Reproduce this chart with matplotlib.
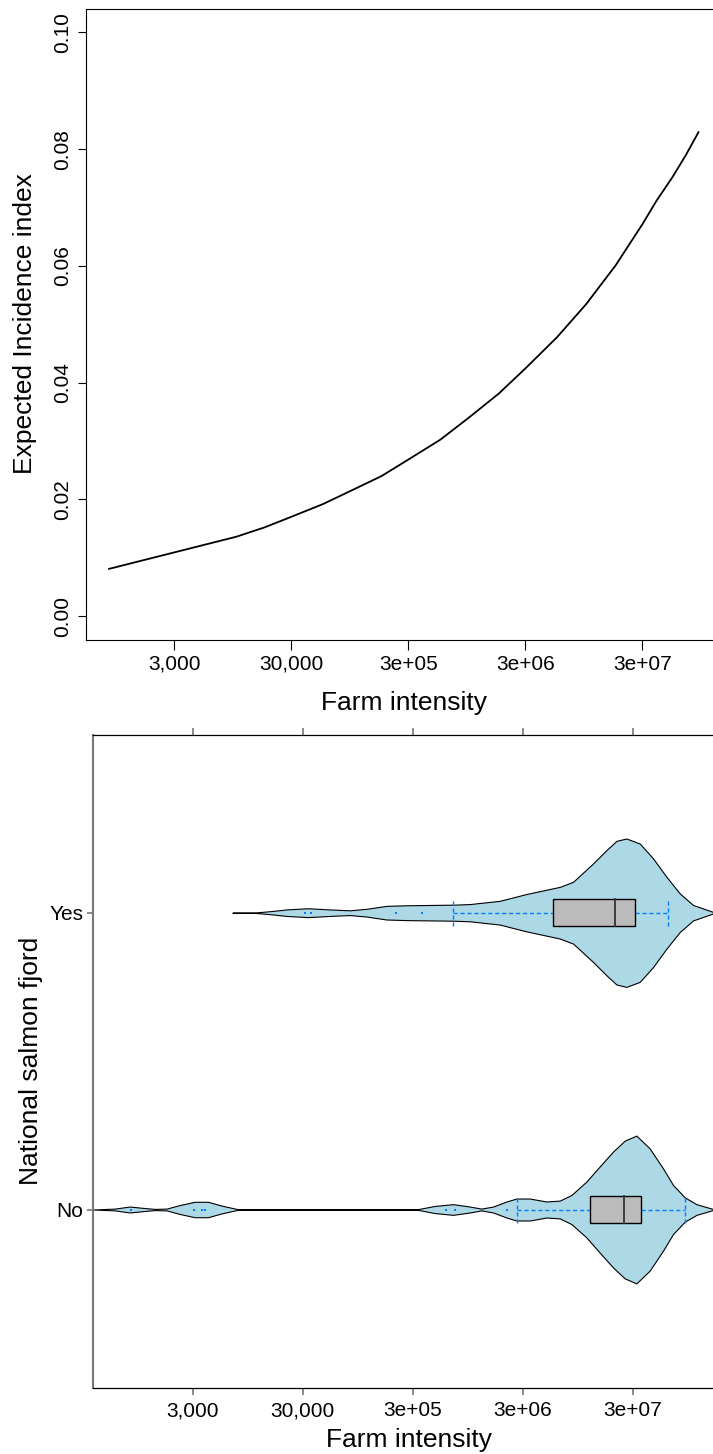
import matplotlib.pyplot as plt
import numpy as np

plt.rcParams['font.family'] = ['Liberation Sans', 'DejaVu Sans']

# top panel: expected incidence curve
curve_x = [836, 10200, 17780, 30000, 56230, 95500, 177800, 3.0e5, 562300, 9.75e5,
           1.778e6, 3.0e6, 5.623e6, 1.0e7, 1.778e7, 3.0e7, 3.981e7, 5.43e7, 7.079e7, 9.06e7]
curve_y = [0.0081, 0.0136, 0.0152, 0.0170, 0.0192, 0.0214, 0.0240, 0.0268, 0.0302, 0.0339,
           0.0381, 0.0424, 0.0478, 0.0535, 0.0601, 0.0671, 0.0712, 0.0752, 0.0790, 0.0829]

tick_vals = [3000, 30000, 3e5, 3e6, 3e7]
tick_labels = ['3,000', '30,000', '3e+05', '3e+06', '3e+07']

# bottom panel: violin outlines (half widths in category units)
yes_x = [6850, 11350, 16070, 21280, 33420, 52720, 80170, 113800, 173000, 263000,
         698000, 991000, 1.858e6, 3.251e6, 6.531e6, 8.630e6, 1.312e7, 1.738e7,
         2.143e7, 2.636e7, 3.491e7, 4.613e7, 6.109e7, 8.072e7, 1.067e8, 1.611e8, 1.82e8]
yes_hw = [0, 0.001, 0.006, 0.011, 0.015, 0.011, 0.008, 0.013, 0.023, 0.025,
          0.027, 0.029, 0.040, 0.063, 0.087, 0.104, 0.166, 0.211,
          0.242, 0.250, 0.233, 0.183, 0.121, 0.065, 0.026, 0.003, 0]

no_x = [371, 582, 796, 1091, 1346, 1722, 2275, 3112, 4111, 5483, 7709, 9863,
        324300, 475300, 698200, 990800, 1.265e6, 1.614e6, 2.138e6, 2.636e6,
        3.483e6, 4.943e6, 6.531e6, 8.337e6, 1.140e7, 1.507e7, 1.991e7, 2.547e7,
        3.251e7, 4.295e7, 5.675e7, 6.998e7, 8.954e7, 1.146e8, 1.611e8, 1.82e8]
no_hw = [0, 0.003, 0.010, 0.005, 0.002, 0.003, 0.015, 0.026, 0.026, 0.013, 0.001, 0.0003,
         0.0003, 0.012, 0.018, 0.010, 0.003, 0.010, 0.027, 0.037,
         0.037, 0.027, 0.030, 0.049, 0.094, 0.145, 0.195, 0.232,
         0.249, 0.206, 0.139, 0.083, 0.041, 0.018, 0.002, 0]

# box stats: whisker low, q1, median, q3, whisker high
yes_box = [6.98e5, 5.71e6, 2.094e7, 3.162e7, 6.35e7]
no_box = [2.667e6, 1.23e7, 2.512e7, 3.614e7, 9.078e7]
yes_out = [31260, 35890, 209900, 367300]
no_out = [826, 3069, 3631, 3899, 608100, 722800, 2.173e6]

groups = ['No', 'Yes']

fig = plt.figure(figsize=(7.13, 14.54), dpi=100)

# ---- top panel
ax = fig.add_axes([85.5/713, 1-639.5/1454, (722-85.5)/713, (639.5-9)/1454])
ax.plot(curve_x, curve_y, color='black', lw=1.3)
ax.set_xscale('log')
ax.set_xlim(526, 1.439e8)
ax.set_ylim(-0.004, 0.104)
ax.set_xticks(tick_vals)
ax.set_xticklabels(tick_labels)
ax.minorticks_off()
ax.set_yticks([0, 0.02, 0.04, 0.06, 0.08, 0.10])
ax.set_yticklabels(['0.00', '0.02', '0.04', '0.06', '0.08', '0.10'],
                   rotation=90, va='center')
ax.tick_params(axis='x', length=7, width=0.8, labelsize=15, pad=4)
ax.tick_params(axis='y', length=5.5, width=0.8, labelsize=15, pad=4)
for s in ax.spines.values():
    s.set_linewidth(0.8)
fig.text(403.8/713, 1-703/1454, 'Farm intensity', ha='center', va='center', fontsize=19)
fig.text(25/713, 1-324/1454, 'Expected Incidence index', ha='center', va='center',
         rotation=90, fontsize=19)

# ---- bottom panel
ax2 = fig.add_axes([93.2/713, 1-1387.6/1454, (724-93.2)/713, (1387.6-734.6)/1454])
ax2.set_xscale('log')
blue = '#0080ff'
bh = 0.0454
for pos, vx, vh, box, outs in [(1, no_x, no_hw, no_box, no_out),
                                (2, yes_x, yes_hw, yes_box, yes_out)]:
    vx = np.array(vx)
    vh = np.array(vh)
    ax2.fill_between(vx, pos - vh, pos + vh, facecolor='#add8e6',
                     edgecolor='black', lw=0.8, zorder=2)
    lo, q1, med, q3, hi = box
    ax2.plot([lo, q1], [pos, pos], color=blue, ls=(0, (3, 2)), lw=1, zorder=3)
    ax2.plot([q3, hi], [pos, pos], color=blue, ls=(0, (3, 2)), lw=1, zorder=3)
    for w in (lo, hi):
        ax2.plot([w, w], [pos - bh, pos + bh], color=blue, ls=(0, (3, 2)), lw=1, zorder=3)
    ax2.fill([q1, q3, q3, q1], [pos - bh, pos - bh, pos + bh, pos + bh],
             facecolor='#bbbbbb', edgecolor='black', lw=1, zorder=4)
    ax2.plot([med, med], [pos - bh, pos + bh], color='#333333', lw=1.3, zorder=5)
    ax2.plot(outs, [pos]*len(outs), 's', color=blue, ms=1.6, mew=0, zorder=5)

ax2.set_xlim(371, 2.04e8)
ax2.set_ylim(0.4, 2.6)
ax2.set_xticks(tick_vals)
ax2.set_xticklabels(tick_labels)
ax2.minorticks_off()
ax2.set_yticks([1, 2])
ax2.set_yticklabels(groups)
ax2.tick_params(axis='x', which='both', top=True, length=5, width=1.2,
                color='#777777', labelsize=15, pad=5)
ax2.tick_params(axis='y', length=4, width=1.2, color='#777777', labelsize=15, pad=3)
for s in ax2.spines.values():
    s.set_linewidth(0.9)
ax2.spines['left'].set_color('#777777')
ax2.spines['left'].set_linewidth(1.5)
fig.text(408.6/713, 1-1440/1454, 'Farm intensity', ha='center', va='center', fontsize=19)
fig.text(31/713, 1-1061/1454, 'National salmon fjord', ha='center', va='center',
         rotation=90, fontsize=19)

fig.savefig('out.png', dpi=100)
